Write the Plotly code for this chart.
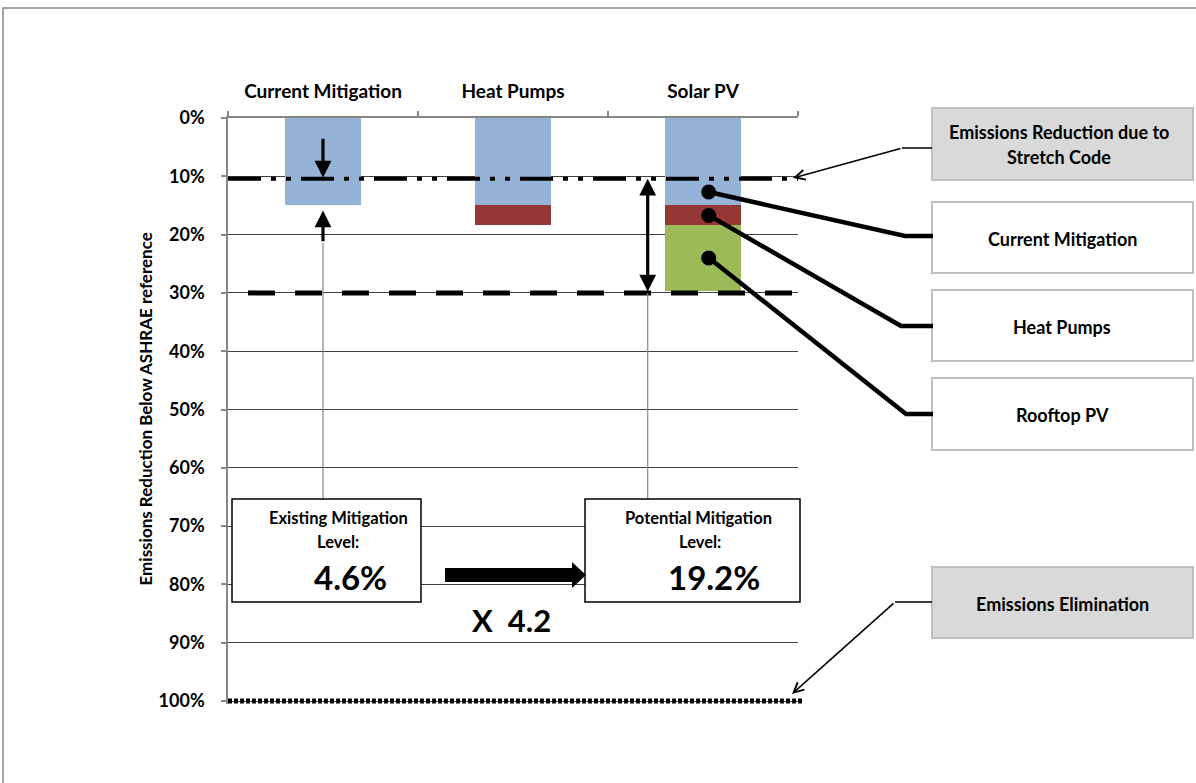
import plotly.graph_objects as go

# ---- data -------------------------------------------------------------
categories = ["Current Mitigation", "Heat Pumps", "Solar PV"]
current_mitigation = [0.150, 0.150, 0.150]
heat_pumps = [0.000, 0.034, 0.034]
rooftop_pv = [0.000, 0.000, 0.112]

stretch_code = 0.104      # emissions reduction due to stretch code
target_level = 0.30       # dashed target line
elimination = 1.00        # full emissions elimination
y_ticks = [i / 10 for i in range(11)]

existing = current_mitigation[0] - stretch_code
potential = current_mitigation[2] + heat_pumps[2] + rooftop_pv[2] - stretch_code
ratio = potential / existing

# ---- geometry helpers (plot area 228..798 px wide, 118..704 px tall) ---
L, R, T, B = 228, 798, 118, 704
YMAX = 1.005
W, H = 1196, 783


def xp(px):
    return (px - L) / (R - L)


def yp(py):
    return (B - py) / (B - T)


def yv(v):
    return 1 - v / YMAX


FONT = "Lato"
GRAY = "#868686"
BOX_EDGE = "#bfbfbf"

fig = go.Figure()
fig.add_bar(x=categories, y=current_mitigation, name="Current Mitigation",
            marker=dict(color="#95B3D7", line=dict(width=0)), width=0.4)
fig.add_bar(x=categories, y=heat_pumps, name="Heat Pumps",
            marker=dict(color="#953735", line=dict(width=0)), width=0.4)
fig.add_bar(x=categories, y=rooftop_pv, name="Rooftop PV",
            marker=dict(color="#9BBB59", line=dict(width=0)), width=0.4)

shapes = []
ann = []

# outer frame
shapes.append(dict(type="rect", xref="paper", yref="paper",
                   x0=xp(3), x1=xp(1260), y0=yp(8), y1=yp(840),
                   line=dict(color=GRAY, width=1.5), layer="below"))

# reference lines
shapes.append(dict(type="line", xref="paper", yref="y", x0=0, x1=1,
                   y0=stretch_code, y1=stretch_code,
                   line=dict(color="black", width=4,
                             dash="33px,10px,5px,10px,5px,10px")))
shapes.append(dict(type="line", xref="paper", yref="y", x0=xp(248), x1=1,
                   y0=target_level, y1=target_level,
                   line=dict(color="black", width=5, dash="27px,20px")))
shapes.append(dict(type="line", xref="paper", yref="y", x0=0, x1=xp(802),
                   y0=elimination, y1=elimination,
                   line=dict(color="black", width=5, dash="4px,2px")))

# arrows inside the chart
x_pv_arrow = 1.709
ann.append(dict(x=0, y=stretch_code, ax=0, ay=0.033, xref="x", yref="y",
                axref="x", ayref="y", showarrow=True, arrowhead=2,
                arrowwidth=3.2, arrowsize=1.05, arrowcolor="black", text="",
                standoff=1))
ann.append(dict(x=0, y=current_mitigation[0], ax=0, ay=0.214, xref="x",
                yref="y", axref="x", ayref="y", showarrow=True, arrowhead=2,
                arrowwidth=3.2, arrowsize=1.05, arrowcolor="black", text="",
                standoff=5))
ann.append(dict(x=x_pv_arrow, y=stretch_code, ax=x_pv_arrow, ay=target_level,
                xref="x", yref="y", axref="x", ayref="y", showarrow=True,
                arrowhead=2, arrowwidth=3.2, arrowsize=1.05,
                arrowcolor="black", arrowside="end+start", text=""))

# thin leaders down to the summary boxes
shapes.append(dict(type="line", xref="x", yref="paper", x0=0, x1=0,
                   y0=yv(0.214), y1=yp(499), line=dict(color=GRAY, width=1.2)))
shapes.append(dict(type="line", xref="x", yref="paper", x0=x_pv_arrow,
                   x1=x_pv_arrow, y0=yv(target_level), y1=yp(499),
                   line=dict(color=GRAY, width=1.2)))

# summary boxes
for x0, x1 in [(232, 421), (585, 800)]:
    shapes.append(dict(type="rect", xref="paper", yref="paper",
                       x0=xp(x0), x1=xp(x1), y0=yp(602), y1=yp(499),
                       fillcolor="white", line=dict(color="black", width=1.5)))


def label(px, py, text, size, color="black"):
    ann.append(dict(x=xp(px), y=yp(py), xref="paper", yref="paper",
                    text=text, showarrow=False, xanchor="center",
                    yanchor="middle",
                    font=dict(family=FONT, size=size, color=color,
                              weight="bold")))


label(338, 518, "Existing Mitigation", 16.5)
label(338, 542, "Level:", 16.5)
label(350, 577, f"{existing:.1%}", 33)
label(698, 518, "Potential Mitigation", 16.5)
label(700, 542, "Level:", 16.5)
label(714, 577, f"{potential:.1%}", 33)
label(511, 620, f"X  {ratio:.1f}", 31)

# block arrow between the boxes
shapes.append(dict(type="path", xref="paper", yref="paper",
                   path=(f"M{xp(445)},{yp(568)} L{xp(572)},{yp(568)} "
                         f"L{xp(572)},{yp(562)} L{xp(586)},{yp(575)} "
                         f"L{xp(572)},{yp(588)} L{xp(572)},{yp(582)} "
                         f"L{xp(445)},{yp(582)} Z"),
                   fillcolor="black", line=dict(width=0)))

# callout boxes on the right
callouts = [
    (108, 180, "#d9d9d9", ["Emissions Reduction due to", "Stretch Code"]),
    (202, 273, "white", ["Current Mitigation"]),
    (290, 361, "white", ["Heat Pumps"]),
    (378, 450, "white", ["Rooftop PV"]),
    (567, 638, "#d9d9d9", ["Emissions Elimination"]),
]
for top, bot, fill, lines in callouts:
    shapes.append(dict(type="rect", xref="paper", yref="paper",
                       x0=xp(932), x1=xp(1193), y0=yp(bot), y1=yp(top),
                       fillcolor=fill, line=dict(color=BOX_EDGE, width=2)))
    mid = (top + bot) / 2
    if len(lines) == 1:
        label(1062, mid + 1, lines[0], 18)
    else:
        label(1059, mid - 12, lines[0], 18)
        label(1059, mid + 13, lines[1], 18)

# dots on the Solar PV stack marking each contribution
pv_stack = current_mitigation[2] + heat_pumps[2]
dot_levels = [
    (stretch_code + current_mitigation[2]) / 2,
    (current_mitigation[2] + pv_stack) / 2,
    (pv_stack + pv_stack + rooftop_pv[2]) / 2,
]
dot_x = 2.03
box_rows = [(905, 236), (901, 326), (906, 414)]
for lvl, (bx, by) in zip(dot_levels, box_rows):
    shapes.append(dict(type="path", xref="paper", yref="paper",
                       path=(f"M{xp(709)},{yv(lvl)} L{xp(bx)},{yp(by)} "
                             f"L{xp(933)},{yp(by)}"),
                       line=dict(color="black", width=4.5)))
    shapes.append(dict(type="circle", xref="x", yref="y",
                       xsizemode="pixel", ysizemode="pixel",
                       xanchor=dot_x, yanchor=lvl,
                       x0=-7.5, x1=7.5, y0=-7.5, y1=7.5,
                       fillcolor="black", line=dict(width=0)))

# leaders from the grey callouts
shapes.append(dict(type="line", xref="paper", yref="paper", x0=xp(902),
                   x1=xp(932), y0=yp(148), y1=yp(148),
                   line=dict(color="black", width=1.5)))
ann.append(dict(x=xp(793), y=yv(stretch_code) + 0.001, xref="paper",
                yref="paper", ax=902 - 793, ay=148 - 178, axref="pixel",
                ayref="pixel", showarrow=True, arrowhead=5, arrowwidth=1.5,
                arrowsize=1.3, arrowcolor="black", text=""))
shapes.append(dict(type="line", xref="paper", yref="paper", x0=xp(895),
                   x1=xp(932), y0=yp(602), y1=yp(602),
                   line=dict(color="black", width=1.5)))
ann.append(dict(x=xp(792), y=yp(694), xref="paper", yref="paper",
                ax=895 - 792, ay=602 - 694, axref="pixel", ayref="pixel",
                showarrow=True, arrowhead=5, arrowwidth=1.5, arrowsize=1.3,
                arrowcolor="black", text=""))

# y-axis title
ann.append(dict(x=xp(133), y=yp(409), xref="paper", yref="paper",
                text="Emissions Reduction Below ASHRAE reference",
                textangle=-90, showarrow=False,
                font=dict(family=FONT, size=17, color="black",
                          weight="bold")))

fig.update_layout(
    width=W, height=H,
    margin=dict(l=L, r=W - R, t=T, b=H - B),
    barmode="stack",
    showlegend=False,
    paper_bgcolor="white",
    plot_bgcolor="white",
    font=dict(family=FONT, color="black"),
    shapes=shapes,
    annotations=ann,
    xaxis=dict(
        type="category", categoryorder="array", categoryarray=categories,
        range=[-0.5, 2.5], side="top", showline=True, linecolor=GRAY,
        linewidth=1.5, ticks="outside", tickson="boundaries", ticklen=5,
        tickcolor=GRAY, tickwidth=1.5, showgrid=False, zeroline=False,
        tickfont=dict(family=FONT, size=19, color="black", weight="bold"),
        ticklabelstandoff=11,
    ),
    yaxis=dict(
        range=[YMAX, 0], tickvals=y_ticks, tickformat=".0%",
        showline=True, linecolor=GRAY, linewidth=1.5, ticks="outside",
        ticklen=5, tickcolor=GRAY, tickwidth=1.5,
        showgrid=True, gridcolor="#404040", gridwidth=1, zeroline=False,
        tickfont=dict(family=FONT, size=18, color="black", weight="bold"),
        ticklabelstandoff=13,
    ),
)

fig.write_html("out.html")
